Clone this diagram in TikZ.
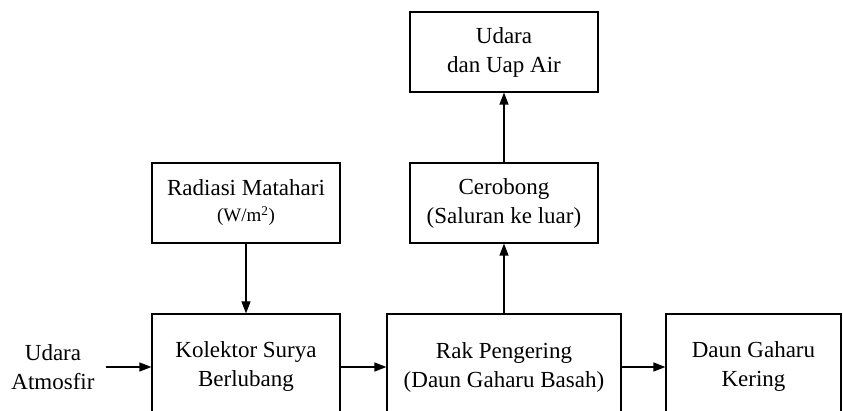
\documentclass[tikz,border=0pt]{standalone}
\usepackage{fontspec}
\setmainfont{Liberation Serif}
\usetikzlibrary{arrows.meta}

\tikzset{
	blok/.style={draw, line width=1.2pt, minimum width=188pt, minimum height=80pt,
		align=center, inner sep=0pt, font=\fontsize{23}{29}\selectfont},
	panah/.style={line width=1.2pt, -{Triangle[length=12pt, width=9pt]}},
}

\begin{document}
\begin{tikzpicture}[
x=1pt,
y=-1pt,
]
	
	\useasboundingbox (0,0) rectangle (843,411);
	\clip (0,0) rectangle (843,411);
	
	%%%%%%%%%%%%%%%%%%%%%%%%%%%%
	%Kotak atas
	%%%%%%%%%%%%%%%%%%%%%%%%%%%%
	
	\node [blok] (udara) at (504,52) {Udara\\dan  Uap Air};
	\node [blok] (cerobong) at (504,203) {Cerobong\\(Saluran ke luar)};
	\node [blok] (radiasi) at (246,203) {Radiasi Matahari\\[-3pt]{\fontsize{19}{22}\selectfont (W/m\textsuperscript{2})}};
	
	%%%%%%%%%%%%%%%%%%%%%%%%%%%%
	%Kotak bawah
	%%%%%%%%%%%%%%%%%%%%%%%%%%%%
	
	\node [blok, minimum height=106pt] (kolektor) at (246,367) {Kolektor Surya\\Berlubang};
	\node [blok, minimum height=106pt, minimum width=234pt] (rak) at (504,367) {Rak Pengering\\(Daun Gaharu Basah)};
	\node [blok, minimum height=106pt, minimum width=175pt] (daun) at (753.5,367) {Daun Gaharu\\Kering};
	
	\node [align=center, inner ysep=0pt, inner xsep=11pt, font=\fontsize{23}{29}\selectfont] (atmosfir) at (53,367) {Udara\\Atmosfir};
	
	%%%%%%%%%%%%%%%%%%%%%%%%%%%%
	%Panah
	%%%%%%%%%%%%%%%%%%%%%%%%%%%%
	
	\draw [panah] (atmosfir.east) -- (kolektor.west);
	\draw [panah] (kolektor.east) -- (rak.west);
	\draw [panah] (rak.east) -- (daun.west);
	\draw [panah] (radiasi.south) -- (kolektor.north);
	\draw [panah] (rak.north) -- (cerobong.south);
	\draw [panah] (cerobong.north) -- (udara.south);
	
\end{tikzpicture}
\end{document}
